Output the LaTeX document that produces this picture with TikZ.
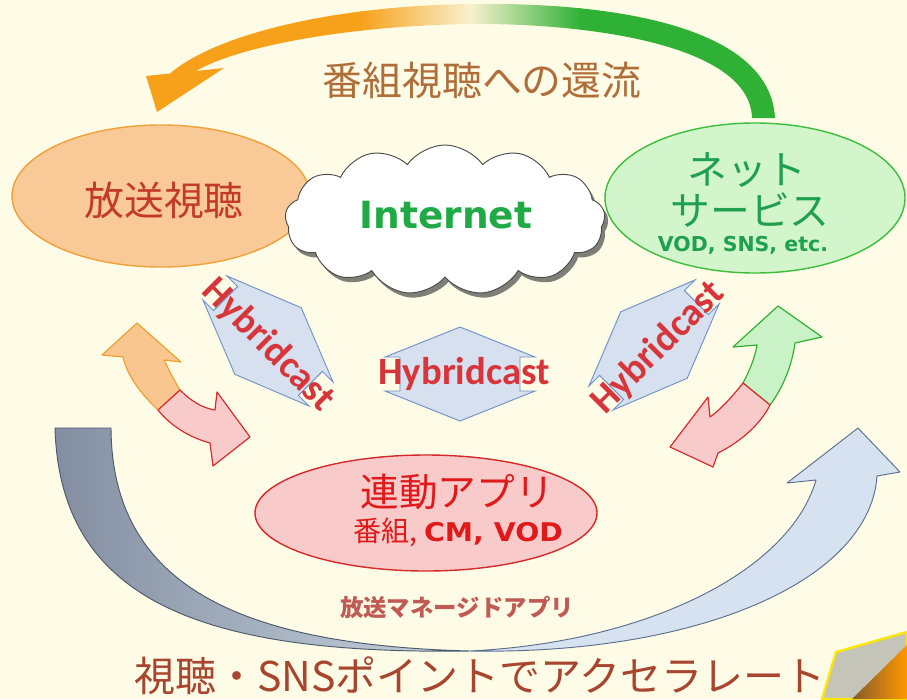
\documentclass[tikz,border=0pt]{standalone}
\usepackage{fontspec}
\usepackage{graphicx}
\setmainfont{Noto Sans CJK JP}
\newfontfamily\jp{Noto Sans CJK JP}
\newfontfamily\dvs{DejaVu Sans}
\newfontfamily\hcf{Carlito}
\usetikzlibrary{shapes.geometric,shapes.symbols,shadows}
\definecolor{bg}{HTML}{FEFCE6}
\definecolor{arcO}{HTML}{F7A11A}
\definecolor{arcG}{HTML}{2EB135}
\definecolor{arcMid}{HTML}{F8F1CF}
\definecolor{leftFill}{HTML}{F9C998}
\definecolor{leftDraw}{HTML}{EFA23A}
\definecolor{rightFill}{HTML}{D3F5CC}
\definecolor{rightDraw}{HTML}{3DBE3D}
\definecolor{redFill}{HTML}{F9CACA}
\definecolor{redDraw}{HTML}{D42A2A}
\definecolor{hybFill}{HTML}{D6E0EE}
\definecolor{hybDraw}{HTML}{6F93C9}
\definecolor{hybText}{HTML}{D8353B}
\definecolor{bcText}{HTML}{C23A2A}
\definecolor{greenText}{HTML}{1FA04E}
\definecolor{netGreen}{HTML}{1FAA45}
\definecolor{topText}{HTML}{AF6E39}
\definecolor{botText}{HTML}{A8452E}
\definecolor{manText}{HTML}{C05A55}
\definecolor{appRed}{HTML}{E01A1A}
\definecolor{grayDark}{HTML}{838FA1}
\definecolor{grayLight}{HTML}{C9D3DF}
\definecolor{grayDraw}{HTML}{4C5A6F}
\definecolor{blueLight}{HTML}{D7E2F0}
\definecolor{blueDraw}{HTML}{5A6F8E}
\definecolor{oFill}{HTML}{F8C68E}
\definecolor{oDraw}{HTML}{EFA030}
\definecolor{gFill}{HTML}{C9F2C6}
\definecolor{gDraw}{HTML}{2FB02F}
\begin{document}
\begin{tikzpicture}[x=0.03cm,y=-0.03cm,
  hyb/.style={fill=hybFill, draw=hybDraw, line width=0.8pt},
  hybtxt/.style={text=hybText, font=\hcf\bfseries\fontsize{33}{36}\selectfont, inner sep=0pt},
  jptxt/.style={inner sep=0pt, font=\jp\fontsize{34}{40}\selectfont},
  halfO/.style={fill=oFill, draw=oDraw, line width=1pt, line join=round},
  halfR/.style={fill=redFill, draw=redDraw, line width=1pt, line join=round},
  halfG/.style={fill=gFill, draw=gDraw, line width=1pt, line join=round}]
\useasboundingbox (0,0) rectangle (907,699);
\fill[bg] (0,0) rectangle (907,699);

% bottom big U arrow
\shade[left color=grayDark, right color=grayLight, draw=grayDraw, line width=0.8pt]
  (55,428) .. controls (60,600) and (200,655) .. (470,651)
  .. controls (230,645) and (112,580) .. (111,428) -- cycle;
\draw[fill=blueLight, draw=blueDraw, line width=0.8pt, line join=round]
  (470,651) .. controls (700,655) and (870,580) .. (877,476) -- (900,472) -- (858,428)
  -- (787,483) -- (816,480) .. controls (790,570) and (650,642) .. (470,651) -- cycle;

% top return arc
\begin{scope}
\clip (775,118) .. controls (770,25) and (610,2) .. (470,4)
  .. controls (330,6) and (215,35) .. (170,73.5) -- (146,76) -- (157,112) -- (224,68)
  -- (196,71) .. controls (235,48) and (340,26) .. (470,24)
  .. controls (590,23) and (750,45) .. (752,118) -- cycle;
\fill[arcO] (100,0) rectangle (361,130);
\shade[left color=arcO, right color=arcMid] (360,0) rectangle (471,130);
\shade[left color=arcMid, right color=arcG] (470,0) rectangle (581,130);
\fill[arcG] (580,0) rectangle (800,130);
\end{scope}
\node[jptxt, text=topText] (ret) at (482,80) {番組視聴への還流};

% ellipses
\node[ellipse, minimum width=8.94cm, minimum height=4.26cm, fill=leftFill, draw=leftDraw, line width=1.2pt] (bcast) at (161,196) {};
\node[ellipse, minimum width=9cm, minimum height=4.5cm, fill=rightFill, draw=rightDraw, line width=1.2pt] (net) at (755,198) {};
\node[ellipse, minimum width=10.26cm, minimum height=3.48cm, fill=redFill, draw=redDraw, line width=1.2pt] (app) at (426,513) {};

% cloud
\node[cloud, cloud puffs=13, cloud puff arc=110, aspect=2.1, minimum width=9.6cm, minimum height=4.5cm,
  fill=white, draw=gray!60!black, line width=0.8pt,
  drop shadow={shadow xshift=3pt, shadow yshift=-4pt, fill=gray!75!black, opacity=0.8}] (cloud) at (445,220) {};

% hybridcast double arrows
\begin{scope}[shift={(268,341)}, rotate=-45]
\draw[hyb] (0,-47) -- (75,-17) -- (60,-17) -- (60,17) -- (75,17) -- (0,47) -- (-75,17) -- (-60,17) -- (-60,-17) -- (-75,-17) -- cycle;
\end{scope}
\begin{scope}[shift={(460,374)}]
\draw[hyb] (0,-47) -- (75,-17) -- (60,-17) -- (60,17) -- (75,17) -- (0,47) -- (-75,17) -- (-60,17) -- (-60,-17) -- (-75,-17) -- cycle;
\end{scope}
\begin{scope}[shift={(654,345)}, rotate=45]
\draw[hyb] (0,-47) -- (75,-17) -- (60,-17) -- (60,17) -- (75,17) -- (0,47) -- (-75,17) -- (-60,17) -- (-60,-17) -- (-75,-17) -- cycle;
\end{scope}

% left curved double arrow
\filldraw[halfO] (137,323) -- (181,362) -- (164,360) .. controls (170,372) and (175,382) .. (180,390)
  -- (158,410) .. controls (140,393) and (127,375) .. (123,357) -- (102,355) -- cycle;
\filldraw[halfR] (180,390) .. controls (192,402) and (203,408) .. (215,410) -- (217,392) -- (250,437)
  -- (213,466) -- (210,443) .. controls (188,437) and (170,425) .. (158,410) -- cycle;
% right curved double arrow
\filldraw[halfG] (778,306) -- (822,337) -- (795,343) .. controls (792,365) and (783,388) .. (770,405)
  -- (743,383) .. controls (750,370) and (755,357) .. (757,345) -- (733,347) -- cycle;
\filldraw[halfR] (743,383) .. controls (732,397) and (720,410) .. (710,417) -- (708,397) -- (670,447)
  -- (713,467) -- (718,453) .. controls (740,442) and (760,425) .. (770,405) -- cycle;

% texts
\node[jptxt, text=bcText] (bcastT) at (164,200) {放送視聴};
\node[inner sep=0pt, text=netGreen, font=\dvs\bfseries\fontsize{32}{36}\selectfont] (inetT) at (446,215) {Internet};
\node[jptxt, text=greenText] (netT1) at (747,170) {ネット};
\node[jptxt, text=greenText] (netT2) at (750,210) {サービス};
\node[inner sep=0pt, text=greenText, font=\dvs\bfseries\fontsize{17.5}{20}\selectfont] (netT3) at (743,245) {VOD, SNS, etc.};
\node[hybtxt, rotate=-45] (hyb1) at (268,345) {Hybridcast};
\node[hybtxt] (hyb2) at (464,374) {Hybridcast};
\node[hybtxt, rotate=45] (hyb3) at (658,348) {Hybridcast};
\node[jptxt, text=appRed, font=\jp\fontsize{33}{38}\selectfont] (appT1) at (457,492) {連動アプリ};
\node[inner sep=0pt, text=appRed] (appT2) at (458,532) {{\jp\fontsize{24}{28}\selectfont 番組,}\hspace{6pt}\scalebox{1.1}[1]{\dvs\bfseries\fontsize{22}{26}\selectfont CM, VOD}};
\node[inner sep=0pt, text=manText, font=\jp\bfseries\fontsize{20}{24}\selectfont] (manT) at (457,607) {放送マネージドアプリ};
\node[jptxt, text=botText, font=\jp\fontsize{35}{40}\selectfont] (botT) at (480,676) {視聴・SNSポイントでアクセラレート};

% bottom-right corner ornament
\filldraw[fill=gray!45!bg, draw=yellow!90!orange, line width=2pt] (822,699) -- (836,652) -- (907,632) -- (907,699) -- cycle;
\shade[left color=brown!70!black, right color=orange!80!yellow] (852,699) -- (907,645) -- (907,699) -- cycle;
\end{tikzpicture}
\end{document}
